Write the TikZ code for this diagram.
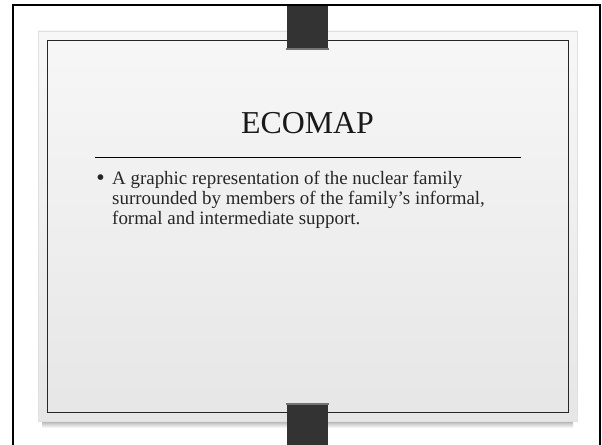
\documentclass[tikz,border=0pt]{standalone}
\usepackage{fontspec}
\setmainfont{Liberation Serif}
\usepackage{xcolor}
\usetikzlibrary{positioning}

\definecolor{bindergray}{HTML}{333333}
\definecolor{cardtop}{HTML}{F7F7F7}
\definecolor{cardbottom}{HTML}{E6E6E6}

\begin{document}
\begin{tikzpicture}[
    x=1bp, y=-1bp,
    frame/.style={draw=black, line width=2bp},
    card/.style={draw=black!12, line width=0.6bp, top color=cardtop, bottom color=cardbottom},
    panel/.style={draw=black!85, line width=0.9bp},
    binder/.style={fill=bindergray},
    binderedge/.style={fill=black!55},
    heading/.style={font=\fontsize{32}{36}\selectfont, text=black!90, inner sep=0pt, anchor=base},
    body/.style={font=\fontsize{19}{22}\selectfont, text=black!85, inner sep=0pt, anchor=base west},
]

\useasboundingbox (0,0) rectangle (602,445);

% outer frame, open at the bottom
\draw[frame] (13,445) -- (13,5.5) -- (600,5.5) -- (600,445);

% card with shadow
\shade[top color=black!40, bottom color=white] (42,419) rectangle (573,428);
\draw[card] (38,31) rectangle (577,421);
\draw[panel] (47.5,40) rectangle (568,412);

% binder clips
\fill[binder] (287,6) rectangle (328,50);
\fill[binderedge] (286,48.5) rectangle (329,50.5);
\fill[binder] (287,404) rectangle (328,445);
\fill[binderedge] (286,402.5) rectangle (329,404.5);

\node[heading] (title) at (307.5,134) {ECOMAP};

\coordinate (ruleL) at (95,157);
\coordinate (ruleR) at (521,157);
\draw[line width=0.8bp] (ruleL) -- (ruleR);

\node[body] (line1) at (112,185) {A graphic representation of the nuclear family};
\node[body] (line2) at ([yshift=-19.7bp]line1.base west) {surrounded by members of the family’s informal,};
\node[body] (line3) at ([yshift=-19.7bp]line2.base west) {formal and intermediate support.};
\node[body, anchor=base, font=\fontsize{24}{24}\selectfont] (dot) at (100.5,186) {•};

\end{tikzpicture}
\end{document}
